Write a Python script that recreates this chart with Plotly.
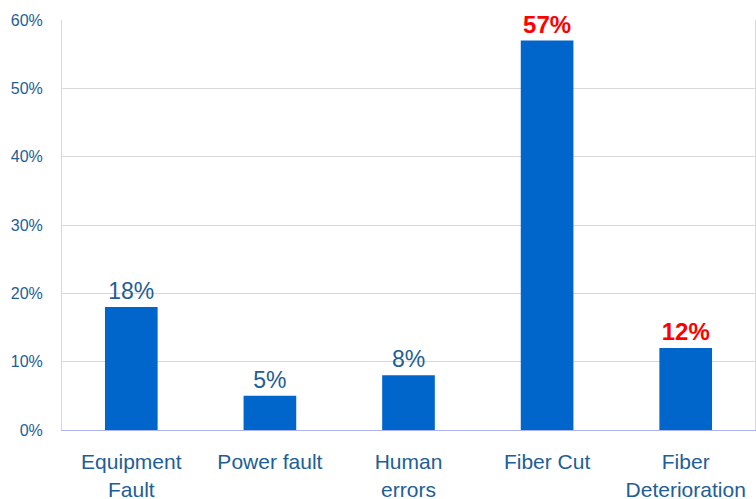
import plotly.graph_objects as go

categories = ["Equipment<br>Fault", "Power fault", "Human<br>errors", "Fiber Cut", "Fiber<br>Deterioration"]
values = [0.18, 0.05, 0.08, 0.57, 0.12]
labels = ["18%", "5%", "8%", "<b>57%</b>", "<b>12%</b>"]
label_colors = ["#215E96", "#215E96", "#215E96", "#FF0000", "#FF0000"]
label_sizes = [23, 23, 23, 24, 24]

FONT = "Arial, 'Liberation Sans', sans-serif"
TXT = "#215E96"

fig = go.Figure(go.Bar(
    x=categories, y=values,
    marker=dict(color="#0066CC", line=dict(width=0)),
    text=labels, textposition="outside",
    textfont=dict(color=label_colors, size=label_sizes, family=FONT),
    cliponaxis=False,
))

fig.update_layout(
    width=756, height=499,
    margin=dict(l=62, r=1, t=20, b=69, autoexpand=False),
    paper_bgcolor="white", plot_bgcolor="white",
    bargap=0.62,
    showlegend=False,
    font=dict(family=FONT, color=TXT),
    xaxis=dict(
        showline=True, linecolor="#B0B4EE", linewidth=1,
        tickfont=dict(size=21, color=TXT, family=FONT),
        ticks="", ticklabelstandoff=13, automargin=False,
        showgrid=False, fixedrange=True,
    ),
    yaxis=dict(
        range=[0, 0.6], dtick=0.1, tickformat=".0%",
        showgrid=True, gridcolor="#D9D9D9", gridwidth=1,
        showline=True, linecolor="#D9D9D9", linewidth=1, mirror=True,
        zeroline=False, automargin=False,
        tickfont=dict(size=16, color=TXT, family=FONT),
        ticks="", ticklabelstandoff=15,
        fixedrange=True,
    ),
)

fig.write_html("out.html")
